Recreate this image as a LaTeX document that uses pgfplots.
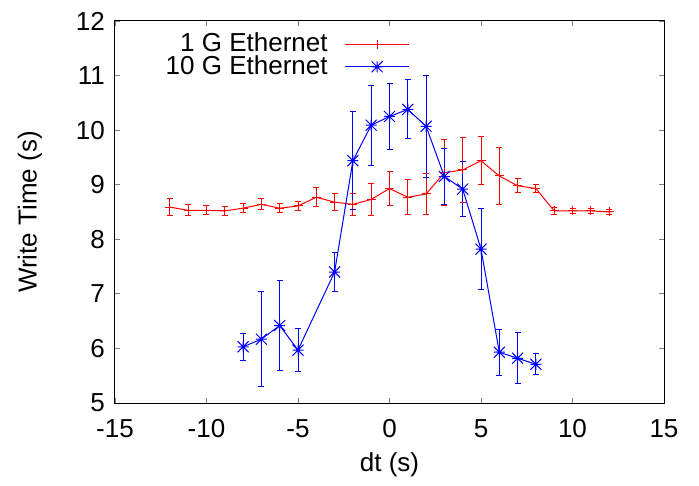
\documentclass[border=0pt]{standalone}
\usepackage{pgfplots}
\pgfplotsset{compat=1.18}
\usepackage{pgfplotstable}
\usetikzlibrary{calc}
\usepackage{fontspec}
\setmainfont{Liberation Sans}
\definecolor{gpred}{RGB}{255,0,0}
\definecolor{gpblue}{RGB}{0,0,255}
\pgfdeclareplotmark{gpstar}{%
  \pgfpathmoveto{\pgfqpoint{-\pgfplotmarksize}{0pt}}%
  \pgfpathlineto{\pgfqpoint{\pgfplotmarksize}{0pt}}%
  \pgfpathmoveto{\pgfqpoint{0pt}{-\pgfplotmarksize}}%
  \pgfpathlineto{\pgfqpoint{0pt}{\pgfplotmarksize}}%
  \pgfpathmoveto{\pgfqpoint{-\pgfplotmarksize}{-\pgfplotmarksize}}%
  \pgfpathlineto{\pgfqpoint{\pgfplotmarksize}{\pgfplotmarksize}}%
  \pgfpathmoveto{\pgfqpoint{-\pgfplotmarksize}{\pgfplotmarksize}}%
  \pgfpathlineto{\pgfqpoint{\pgfplotmarksize}{-\pgfplotmarksize}}%
  \pgfusepathqstroke}

\pgfplotstableread{
x y e
-12 8.59 0.15
-11 8.53 0.10
-10 8.53 0.08
-9 8.52 0.08
-8 8.57 0.08
-7 8.64 0.10
-6 8.57 0.08
-5 8.61 0.08
-4 8.77 0.17
-3 8.68 0.15
-2 8.64 0.20
-1 8.73 0.30
0 8.93 0.32
1 8.77 0.32
2 8.83 0.38
3 9.22 0.60
4 9.27 0.60
5 9.44 0.44
6 9.16 0.53
7 8.98 0.13
8 8.93 0.08
9 8.52 0.06
10 8.52 0.05
11 8.52 0.05
12 8.50 0.04
}\redtab

\pgfplotstableread{
x y e
-8 6.03 0.25
-7 6.17 0.87
-6 6.42 0.82
-5 5.97 0.39
-3 7.40 0.35
-2 9.44 0.90
-1 10.09 0.73
0 10.25 0.60
1 10.38 0.54
2 10.07 0.93
3 9.15 0.52
4 8.92 0.50
5 7.82 0.74
6 5.93 0.42
7 5.82 0.47
8 5.71 0.19
}\bluetab

\begin{document}
\fontsize{26bp}{30bp}\selectfont
\begin{tikzpicture}
\begin{axis}[
  name=ax,
  scale only axis,
  width=549bp, height=382bp,
  xmin=-15, xmax=15, ymin=5, ymax=12,
  xtick={-15,-10,...,15},
  ytick={5,6,...,12},
  minor tick num=0,
  tick align=inside,
  major tick length=5bp,
  axis line style={line width=1bp},
  tick style={line width=0.8bp},
  /pgf/number format/assume math mode=true,
  ticklabel style={font=\fontsize{26bp}{30bp}\selectfont},
  label style={font=\fontsize{26bp}{30bp}\selectfont},
  yticklabel style={inner sep=0pt, xshift=-10bp},
  xticklabel style={inner sep=0pt, yshift=-16bp},
  xlabel={dt (s)},
  ylabel={Write Time (s)},
  xlabel style={at={(axis description cs:0.5,-0.162)}, anchor=center},
  ylabel style={at={(axis description cs:-0.155,0.5)}, anchor=center},
  legend style={draw=none, fill=none, at={(axis description cs:0.537,0.975)}, anchor=north east,
    font=\fontsize{26bp}{30bp}\selectfont, row sep=-4bp, column sep=15bp, inner sep=0pt},
  legend cell align=right,
  legend plot pos=right,
  legend image code/.code={%
    \draw[#1, mark repeat=2, mark phase=2] plot coordinates {(0bp,0bp) (32bp,0bp) (64bp,0bp)};},
]
% error bars: vertical segments (quiver from y-e by 2e) and caps (marks "-")
\addplot[draw=gpred, line width=1bp, forget plot, quiver={u=0, v={2*\thisrow{e}}}]
  table[x=x, y expr=\thisrow{y}-\thisrow{e}]{\redtab};
\addplot[draw=gpred, only marks, mark=-, mark size=3bp, mark options={draw=gpred, line width=1bp}, forget plot]
  table[x=x, y expr=\thisrow{y}-\thisrow{e}]{\redtab};
\addplot[draw=gpred, only marks, mark=-, mark size=3bp, mark options={draw=gpred, line width=1bp}, forget plot]
  table[x=x, y expr=\thisrow{y}+\thisrow{e}]{\redtab};
\addplot[draw=gpblue, line width=1bp, forget plot, quiver={u=0, v={2*\thisrow{e}}}]
  table[x=x, y expr=\thisrow{y}-\thisrow{e}]{\bluetab};
\addplot[draw=gpblue, only marks, mark=-, mark size=3bp, mark options={draw=gpblue, line width=1bp}, forget plot]
  table[x=x, y expr=\thisrow{y}-\thisrow{e}]{\bluetab};
\addplot[draw=gpblue, only marks, mark=-, mark size=3bp, mark options={draw=gpblue, line width=1bp}, forget plot]
  table[x=x, y expr=\thisrow{y}+\thisrow{e}]{\bluetab};
% main series
\addplot[draw=gpred, line width=1bp, mark=+, mark size=4.5bp, mark options={draw=gpred, line width=1bp}, forget plot]
  table[x=x, y=y]{\redtab};
\addplot[draw=gpblue, line width=1bp, mark=gpstar, mark size=5.5bp, mark options={draw=gpblue, line width=1bp}, forget plot]
  table[x=x, y=y]{\bluetab};
\addlegendimage{draw=gpred, line width=1bp, mark=+, mark size=4.5bp, mark options={draw=gpred, line width=1bp}}
\addlegendentry{1 G Ethernet}
\addlegendimage{draw=gpblue, line width=1bp, mark=gpstar, mark size=5.5bp, mark options={draw=gpblue, line width=1bp}}
\addlegendentry{10 G Ethernet}
\end{axis}
\path ($(ax.south west)+(-115bp,-77bp)$) rectangle ($(ax.north east)+(35bp,21bp)$);
\end{tikzpicture}
\end{document}
